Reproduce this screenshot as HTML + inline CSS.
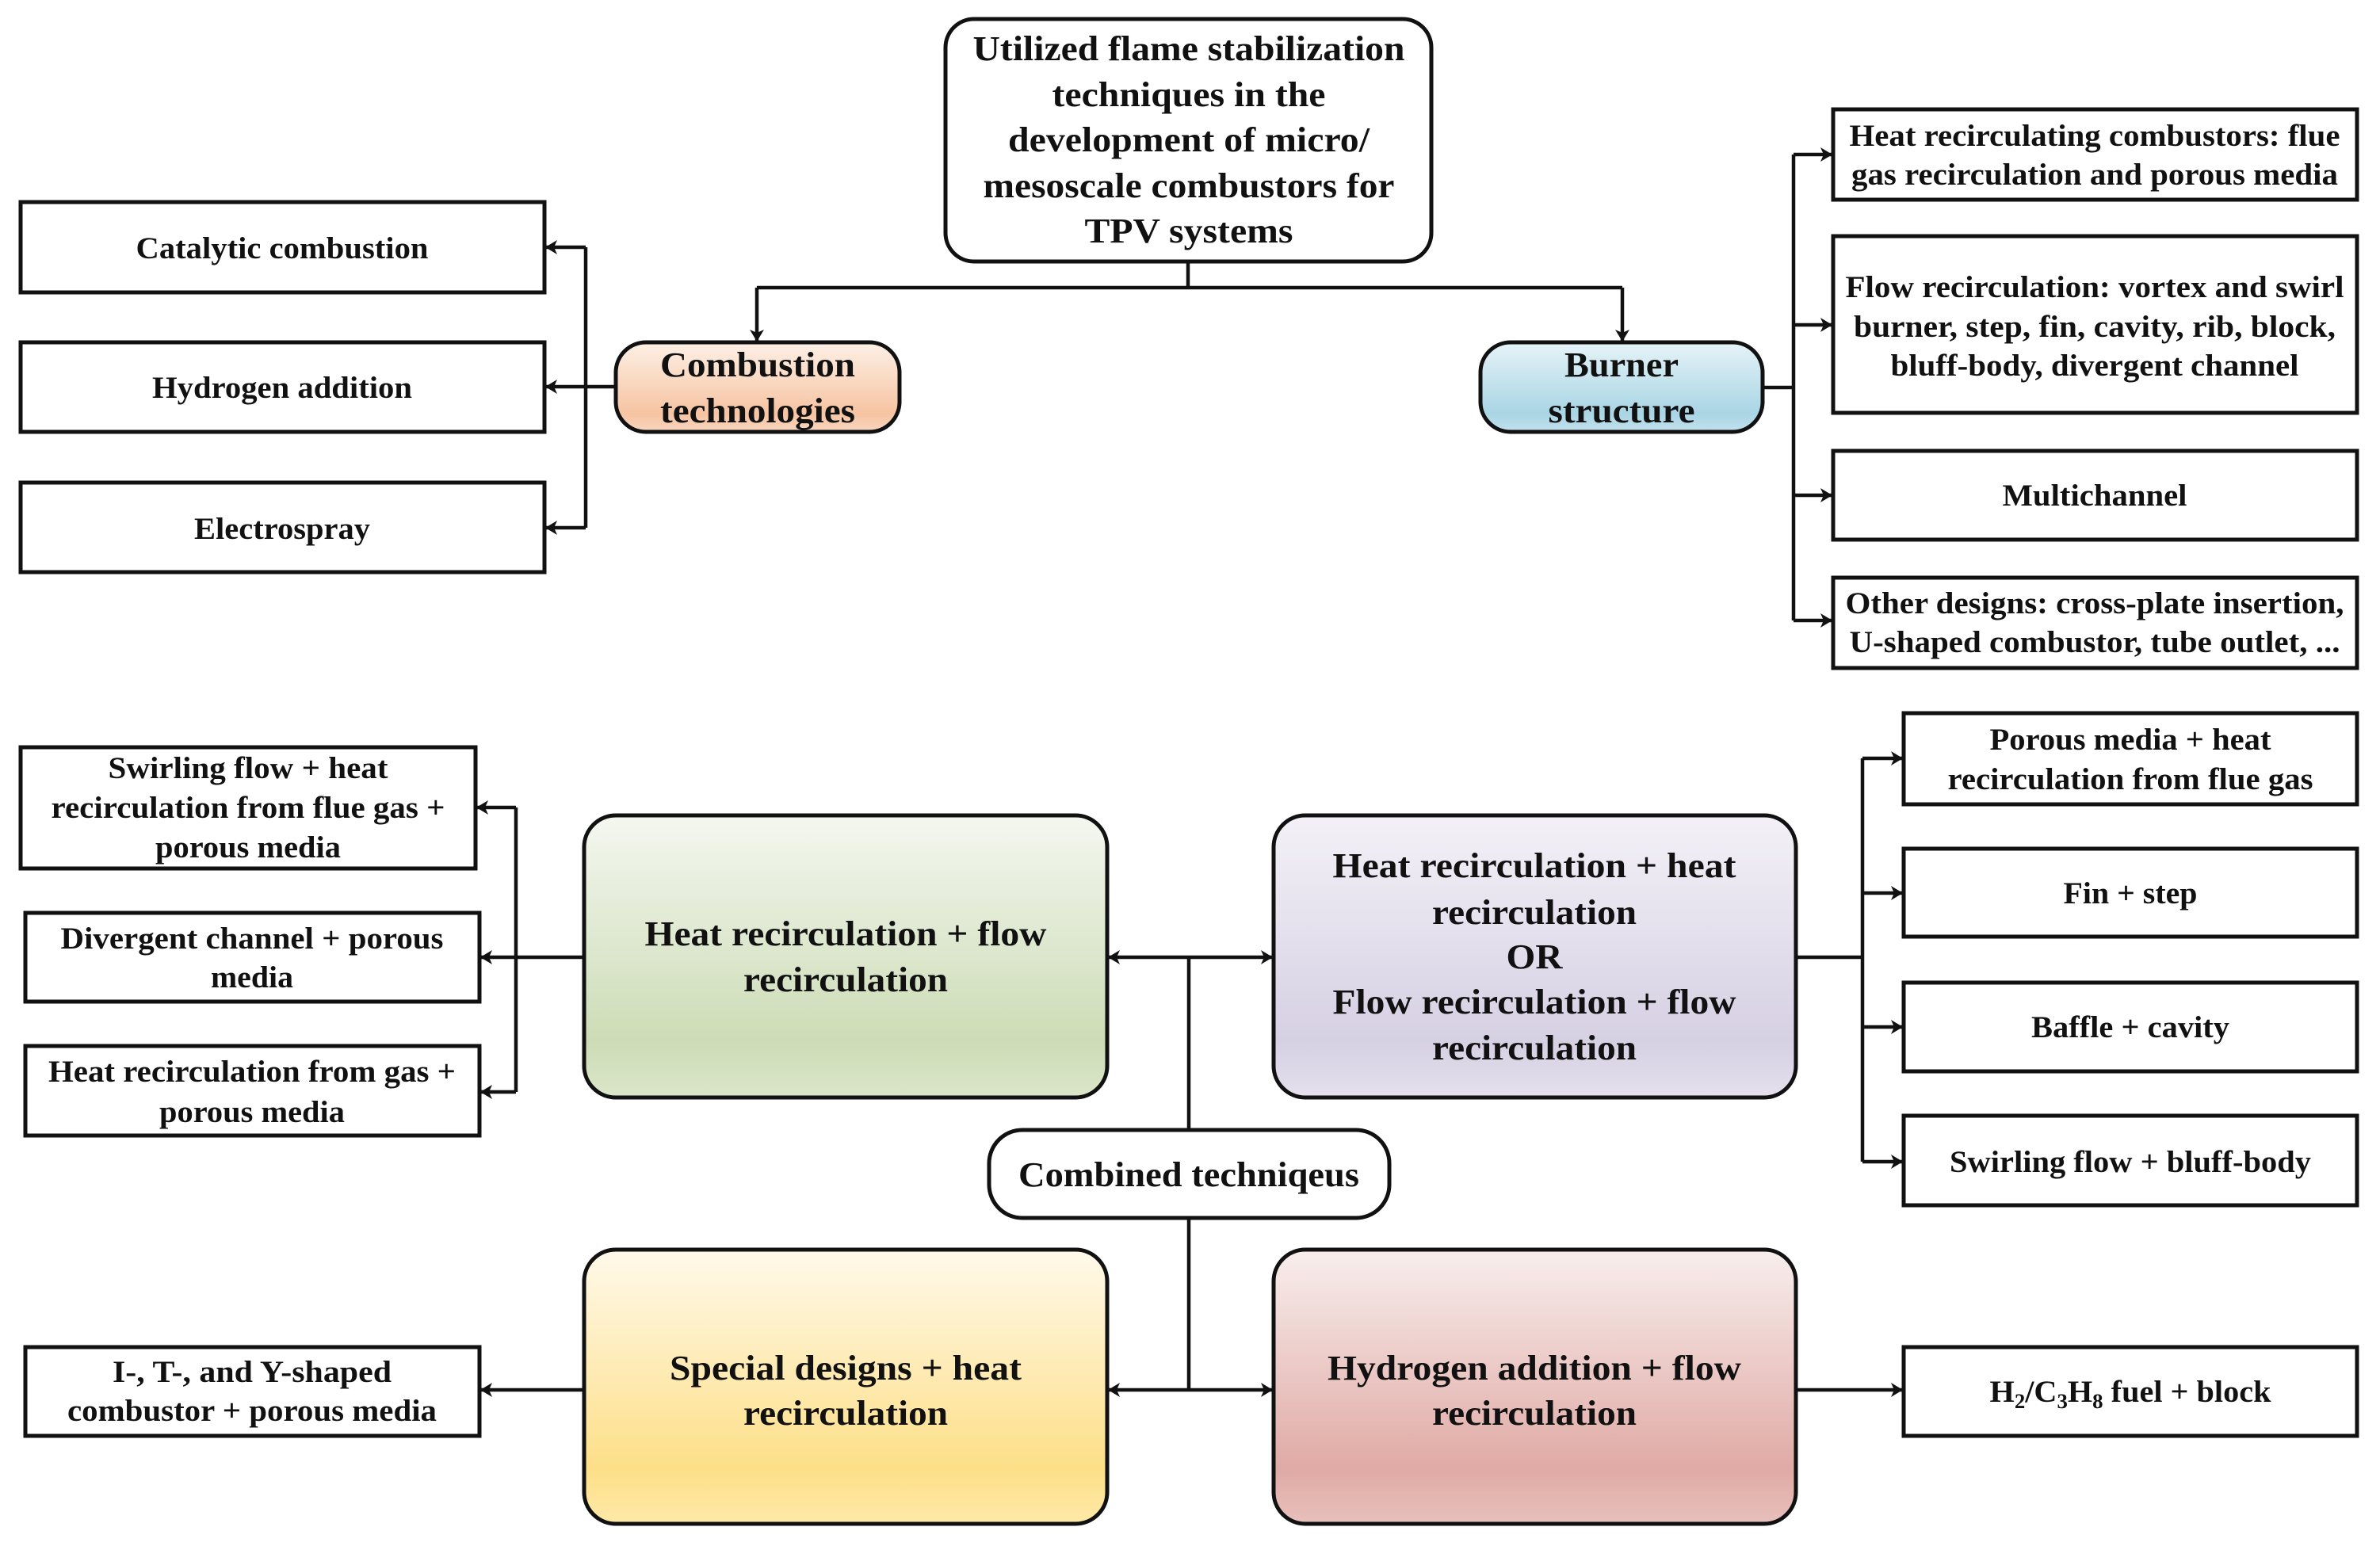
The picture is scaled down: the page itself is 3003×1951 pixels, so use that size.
<!DOCTYPE html>
<html><head><meta charset="utf-8"><style>
html,body{margin:0;padding:0;background:#fff;}
svg{display:block;}
text{font-family:"Liberation Serif","Times New Roman",serif;font-weight:bold;fill:#111;text-anchor:middle;}
.b{font-size:44px;}
.s{font-size:39px;}
</style></head><body>
<svg width="3003" height="1951" viewBox="0 0 3003 1951" xmlns="http://www.w3.org/2000/svg">
<defs>
<marker id="a" markerUnits="userSpaceOnUse" markerWidth="16" markerHeight="18" refX="15" refY="9" orient="auto">
<path d="M0,0 L15,9 L0,18 L4,9 z" fill="#111"/></marker>
<linearGradient id="gPeach" x1="0" y1="0" x2="0" y2="1"><stop offset="0" stop-color="#fdf0e6"/><stop offset="0.8" stop-color="#f6c4a2"/><stop offset="1" stop-color="#f9d6bf"/></linearGradient>
<linearGradient id="gBlue" x1="0" y1="0" x2="0" y2="1"><stop offset="0" stop-color="#e6f3f8"/><stop offset="0.8" stop-color="#a9d5e5"/><stop offset="1" stop-color="#c2e1ec"/></linearGradient>
<linearGradient id="gGreen" x1="0" y1="0" x2="0" y2="1"><stop offset="0" stop-color="#f4f7f0"/><stop offset="0.8" stop-color="#cddcb6"/><stop offset="1" stop-color="#dbe6c9"/></linearGradient>
<linearGradient id="gPurple" x1="0" y1="0" x2="0" y2="1"><stop offset="0" stop-color="#f3f1f7"/><stop offset="0.8" stop-color="#d6d0e3"/><stop offset="1" stop-color="#e4e0ec"/></linearGradient>
<linearGradient id="gYellow" x1="0" y1="0" x2="0" y2="1"><stop offset="0" stop-color="#fff9ea"/><stop offset="0.8" stop-color="#fddf88"/><stop offset="1" stop-color="#fee9a8"/></linearGradient>
<linearGradient id="gPink" x1="0" y1="0" x2="0" y2="1"><stop offset="0" stop-color="#f8eeed"/><stop offset="0.8" stop-color="#e0aaa5"/><stop offset="1" stop-color="#e8c0bc"/></linearGradient>
</defs>

<g fill="none" stroke="#111" stroke-width="5">
<!-- top -->
<rect x="1193" y="24" width="613" height="306" rx="36" fill="#fff"/>
<rect x="777" y="432" width="358" height="113" rx="38" fill="url(#gPeach)"/>
<rect x="1868" y="432" width="356" height="113" rx="38" fill="url(#gBlue)"/>
<rect x="26" y="255" width="661" height="114" fill="#fff"/>
<rect x="26" y="432" width="661" height="113" fill="#fff"/>
<rect x="26" y="609" width="661" height="113" fill="#fff"/>
<rect x="2313" y="138" width="661" height="114" fill="#fff"/>
<rect x="2313" y="298" width="661" height="223" fill="#fff"/>
<rect x="2313" y="569" width="661" height="112" fill="#fff"/>
<rect x="2313" y="729" width="661" height="114" fill="#fff"/>
<!-- bottom -->
<rect x="737" y="1029" width="660" height="356" rx="40" fill="url(#gGreen)"/>
<rect x="1607" y="1029" width="659" height="356" rx="40" fill="url(#gPurple)"/>
<rect x="737" y="1577" width="660" height="346" rx="40" fill="url(#gYellow)"/>
<rect x="1607" y="1577" width="659" height="346" rx="40" fill="url(#gPink)"/>
<rect x="1248" y="1426" width="505" height="111" rx="42" fill="#fff"/>
<rect x="26" y="943" width="574" height="153" fill="#fff"/>
<rect x="32" y="1152" width="573" height="112" fill="#fff"/>
<rect x="32" y="1320" width="573" height="113" fill="#fff"/>
<rect x="32" y="1700" width="573" height="112" fill="#fff"/>
<rect x="2402" y="900" width="572" height="115" fill="#fff"/>
<rect x="2402" y="1071" width="572" height="111" fill="#fff"/>
<rect x="2402" y="1240" width="572" height="112" fill="#fff"/>
<rect x="2402" y="1408" width="572" height="113" fill="#fff"/>
<rect x="2402" y="1700" width="572" height="112" fill="#fff"/>
</g>

<g fill="none" stroke="#111" stroke-width="4.5">
<path d="M1499 330 V363 M955 363 H2047"/>
<path d="M955 363 V431" marker-end="url(#a)"/>
<path d="M2047 363 V431" marker-end="url(#a)"/>
<path d="M777 488 H688" marker-end="url(#a)"/>
<path d="M739 312 V666"/>
<path d="M739 312 H688" marker-end="url(#a)"/>
<path d="M739 666 H688" marker-end="url(#a)"/>
<path d="M2224 489 H2263 M2263 195 V783"/>
<path d="M2263 195 H2312" marker-end="url(#a)"/>
<path d="M2263 410 H2312" marker-end="url(#a)"/>
<path d="M2263 625 H2312" marker-end="url(#a)"/>
<path d="M2263 783 H2312" marker-end="url(#a)"/>

<path d="M737 1208 H606" marker-end="url(#a)"/>
<path d="M651 1019 V1378"/>
<path d="M651 1019 H601" marker-end="url(#a)"/>
<path d="M651 1378 H606" marker-end="url(#a)"/>
<path d="M1500 1208 H1398" marker-end="url(#a)"/>
<path d="M1500 1208 H1606" marker-end="url(#a)"/>
<path d="M1500 1208 V1426 M1500 1537 V1754"/>
<path d="M1500 1754 H1398" marker-end="url(#a)"/>
<path d="M1500 1754 H1606" marker-end="url(#a)"/>
<path d="M2266 1208 H2350 M2350 957 V1466"/>
<path d="M2350 957 H2401" marker-end="url(#a)"/>
<path d="M2350 1127 H2401" marker-end="url(#a)"/>
<path d="M2350 1296 H2401" marker-end="url(#a)"/>
<path d="M2350 1466 H2401" marker-end="url(#a)"/>
<path d="M737 1754 H606" marker-end="url(#a)"/>
<path d="M2266 1754 H2401" marker-end="url(#a)"/>
</g>

<g class="b">
<text x="1500" y="76" textLength="545" lengthAdjust="spacingAndGlyphs">Utilized flame stabilization</text>
<text x="1500" y="134" textLength="345" lengthAdjust="spacingAndGlyphs">techniques in the</text>
<text x="1500" y="191" textLength="456" lengthAdjust="spacingAndGlyphs">development of micro/</text>
<text x="1500" y="249" textLength="519" lengthAdjust="spacingAndGlyphs">mesoscale combustors for</text>
<text x="1500" y="306" textLength="263" lengthAdjust="spacingAndGlyphs">TPV systems</text>
<text x="956" y="475" textLength="246" lengthAdjust="spacingAndGlyphs">Combustion</text>
<text x="956" y="533" textLength="246" lengthAdjust="spacingAndGlyphs">technologies</text>
<text x="2046" y="475" textLength="144" lengthAdjust="spacingAndGlyphs">Burner</text>
<text x="2046" y="533" textLength="185" lengthAdjust="spacingAndGlyphs">structure</text>

<text x="1067" y="1193" textLength="507" lengthAdjust="spacingAndGlyphs">Heat recirculation + flow</text>
<text x="1067" y="1251" textLength="258" lengthAdjust="spacingAndGlyphs">recirculation</text>
<text x="1936" y="1107" textLength="509" lengthAdjust="spacingAndGlyphs">Heat recirculation + heat</text>
<text x="1936" y="1166" textLength="258" lengthAdjust="spacingAndGlyphs">recirculation</text>
<text x="1936" y="1222" textLength="71" lengthAdjust="spacingAndGlyphs">OR</text>
<text x="1936" y="1279" textLength="509" lengthAdjust="spacingAndGlyphs">Flow recirculation + flow</text>
<text x="1936" y="1337" textLength="258" lengthAdjust="spacingAndGlyphs">recirculation</text>
<text x="1067" y="1741" textLength="444" lengthAdjust="spacingAndGlyphs">Special designs + heat</text>
<text x="1067" y="1798" textLength="258" lengthAdjust="spacingAndGlyphs">recirculation</text>
<text x="1936" y="1741" textLength="522" lengthAdjust="spacingAndGlyphs">Hydrogen addition + flow</text>
<text x="1936" y="1798" textLength="258" lengthAdjust="spacingAndGlyphs">recirculation</text>
<text x="1500" y="1497" textLength="430" lengthAdjust="spacingAndGlyphs">Combined techniqeus</text>
</g>

<g class="s">
<text x="356" y="326" textLength="369" lengthAdjust="spacingAndGlyphs">Catalytic combustion</text>
<text x="356" y="502" textLength="328" lengthAdjust="spacingAndGlyphs">Hydrogen addition</text>
<text x="356" y="680" textLength="222" lengthAdjust="spacingAndGlyphs">Electrospray</text>
<text x="2643" y="184" textLength="619" lengthAdjust="spacingAndGlyphs">Heat recirculating combustors: flue</text>
<text x="2643" y="233" textLength="614" lengthAdjust="spacingAndGlyphs">gas recirculation and porous media</text>
<text x="2643" y="375" textLength="629" lengthAdjust="spacingAndGlyphs">Flow recirculation: vortex and swirl</text>
<text x="2643" y="425" textLength="608" lengthAdjust="spacingAndGlyphs">burner, step, fin, cavity, rib, block,</text>
<text x="2643" y="474" textLength="515" lengthAdjust="spacingAndGlyphs">bluff-body, divergent channel</text>
<text x="2643" y="638" textLength="233" lengthAdjust="spacingAndGlyphs">Multichannel</text>
<text x="2643" y="774" textLength="629" lengthAdjust="spacingAndGlyphs">Other designs: cross-plate insertion,</text>
<text x="2643" y="823" textLength="619" lengthAdjust="spacingAndGlyphs">U-shaped combustor, tube outlet, ...</text>

<text x="313" y="982" textLength="353" lengthAdjust="spacingAndGlyphs">Swirling flow + heat</text>
<text x="313" y="1032" textLength="497" lengthAdjust="spacingAndGlyphs">recirculation from flue gas +</text>
<text x="313" y="1082" textLength="234" lengthAdjust="spacingAndGlyphs">porous media</text>
<text x="318" y="1197" textLength="483" lengthAdjust="spacingAndGlyphs">Divergent channel + porous</text>
<text x="318" y="1246" textLength="104" lengthAdjust="spacingAndGlyphs">media</text>
<text x="318" y="1365" textLength="514" lengthAdjust="spacingAndGlyphs">Heat recirculation from gas +</text>
<text x="318" y="1416" textLength="234" lengthAdjust="spacingAndGlyphs">porous media</text>
<text x="318" y="1744" textLength="352" lengthAdjust="spacingAndGlyphs">I-, T-, and Y-shaped</text>
<text x="318" y="1793" textLength="466" lengthAdjust="spacingAndGlyphs">combustor + porous media</text>

<text x="2688" y="946" textLength="355" lengthAdjust="spacingAndGlyphs">Porous media + heat</text>
<text x="2688" y="996" textLength="461" lengthAdjust="spacingAndGlyphs">recirculation from flue gas</text>
<text x="2688" y="1140" textLength="169" lengthAdjust="spacingAndGlyphs">Fin + step</text>
<text x="2688" y="1309" textLength="250" lengthAdjust="spacingAndGlyphs">Baffle + cavity</text>
<text x="2688" y="1479" textLength="456" lengthAdjust="spacingAndGlyphs">Swirling flow + bluff-body</text>
<text x="2688" y="1769" textLength="355" lengthAdjust="spacingAndGlyphs">H<tspan font-size="26" dy="8">2</tspan><tspan dy="-8">/C</tspan><tspan font-size="26" dy="8">3</tspan><tspan dy="-8">H</tspan><tspan font-size="26" dy="8">8</tspan><tspan dy="-8"> fuel + block</tspan></text>
</g>
</svg>
</body></html>
